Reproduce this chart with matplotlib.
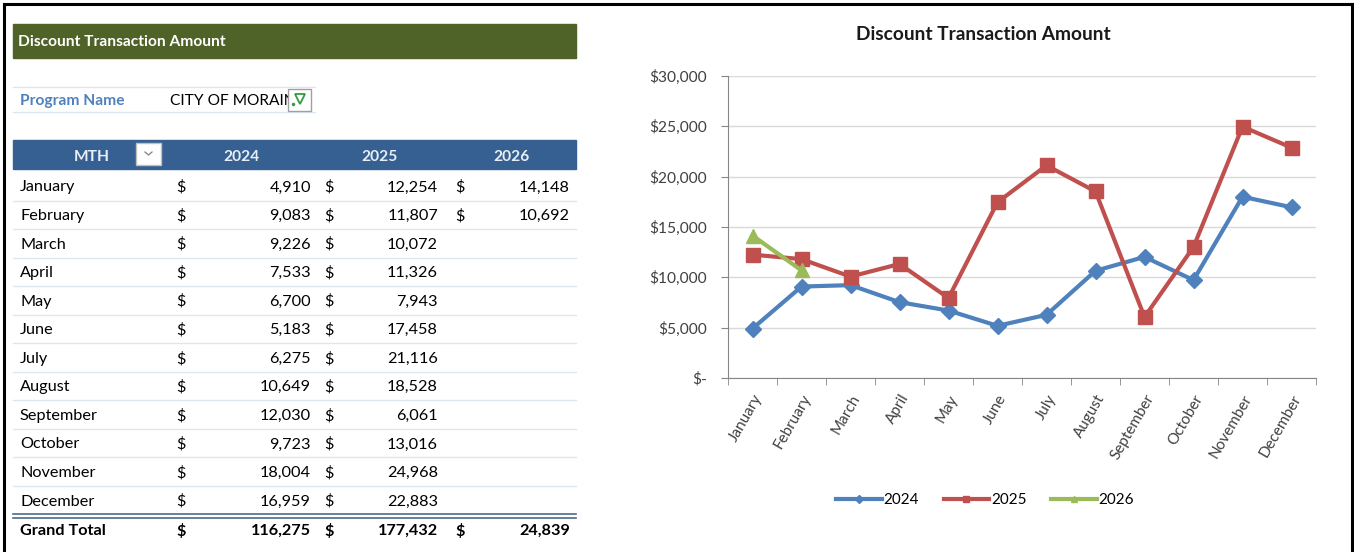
import matplotlib
matplotlib.use("Agg")
import matplotlib.pyplot as plt
from matplotlib.patches import Rectangle
from matplotlib.ticker import FixedLocator, FuncFormatter

plt.rcParams['font.family'] = ['Lato', 'DejaVu Sans']

# ---------------------------------------------------------------
# Data (read off the pivot table)
# ---------------------------------------------------------------
months = ["January", "February", "March", "April", "May", "June", "July",
          "August", "September", "October", "November", "December"]
amt_2024 = [4910, 9083, 9226, 7533, 6700, 5183, 6275, 10649, 12030, 9723, 18004, 16959]
amt_2025 = [12254, 11807, 10072, 11326, 7943, 17458, 21116, 18528, 6061, 13016, 24968, 22883]
amt_2026 = [14148, 10692]
grand_totals = [116275, 177432, 24839]
years = ["2024", "2025", "2026"]
series = [amt_2024, amt_2025, amt_2026]
y_ticks = [0, 5000, 10000, 15000, 20000, 25000, 30000]

title = "Discount Transaction Amount"
program = "CITY OF MORAIN"

colors = ["#4F81BD", "#C0504D", "#9BBB59"]
markers = ["D", "s", "^"]

W, H = 1354, 552
FS = 11.7  # table font size

fig = plt.figure(figsize=(W / 100, H / 100), dpi=100)

# background axes in pixel coordinates for the sheet / table part
bg = fig.add_axes([0, 0, 1, 1])
bg.set_xlim(0, W)
bg.set_ylim(H, 0)
bg.axis('off')

# outer black frame (open at bottom)
bg.plot([4, 4], [H, 4], color="black", lw=2.2)
bg.plot([4, 1352], [4, 4], color="black", lw=2.2)
bg.plot([1352, 1352], [4, H], color="black", lw=2.2)

# title bar
bg.add_patch(Rectangle((13, 24), 563, 34, color="#4F6228"))
bg.text(18, 42, title, color="white", fontsize=FS - 0.5, fontweight="bold", va="center")

# program name filter row
bg.plot([13, 315], [87, 87], color="#DCE6F1", lw=1)
bg.plot([13, 315], [112, 112], color="#DCE6F1", lw=1)
bg.text(20, 101, "Program Name", color="#4F81BD", fontsize=FS - 0.5, fontweight="bold", va="center")
bg.text(170, 101, program, color="black", fontsize=FS - 0.5, va="center")
bg.add_patch(Rectangle((288, 89), 23, 22, facecolor="white", edgecolor="#A0A0A0", lw=1, zorder=3))
bg.plot([300], [99], marker="v", ms=7, color="white", mec="#2E9E3E", mew=1.3, zorder=4)
bg.plot([293], [104], marker=".", ms=3, color="#2E9E3E", zorder=4)

# header bar
bg.add_patch(Rectangle((13, 140), 563, 29, color="#366092"))
bg.text(92, 157, "MTH", color="#E8EEF6", fontsize=FS - 0.5, fontweight="bold", ha="center", va="center")
bg.add_patch(Rectangle((136, 143), 25, 22, facecolor="white", edgecolor="#C0C0C0", lw=1))
bg.plot([145, 148.5, 152], [152, 155, 152], color="#808080", lw=0.9)
col_centers = [242, 380, 512]
for yr, cx in zip(years, col_centers):
    bg.text(cx, 157, yr, color="#E8EEF6", fontsize=FS - 0.5, fontweight="bold",
            ha="center", va="center")

# body rows
row0, row_step = 187.5, 28.55
dollar_x = [176, 324, 455]
value_x = [311, 438, 570]
for i, m in enumerate(months):
    y = row0 + i * row_step
    bg.text(20, y, m, fontsize=FS, va="center", color="black")
    for k, vals in enumerate(series):
        if i < len(vals):
            bg.text(dollar_x[k], y, "$", fontsize=FS, va="center")
            bg.text(value_x[k], y, f"{vals[i]:,}", fontsize=FS, va="center", ha="right")
    if i < len(months) - 1:
        bg.plot([13, 576], [y + 13, y + 13], color="#DCE6F1", lw=1)

# grand total
bg.plot([13, 576], [514, 514], color="#4F6B8C", lw=1.2)
bg.plot([13, 576], [517.5, 517.5], color="#4F6B8C", lw=1.2)
bg.text(20, 531, "Grand Total", fontsize=FS, fontweight="bold", va="center")
for k, tot in enumerate(grand_totals):
    bg.text(dollar_x[k], 531, "$", fontsize=FS, fontweight="bold", va="center")
    bg.text(value_x[k], 531, f"{tot:,}", fontsize=FS, fontweight="bold",
            va="center", ha="right")

# ---------------------------------------------------------------
# Line chart
# ---------------------------------------------------------------
ax = fig.add_axes([728 / W, 1 - 378 / H, 588 / W, 302 / H])
for vals, yr, c, mk in zip(series, years, colors, markers):
    ms = 9.5 if mk == "s" else (8.5 if mk == "D" else 10)
    ax.plot(range(len(vals)), vals, color=c, lw=3, marker=mk, ms=ms, label=yr)

ax.set_xlim(-0.5, len(months) - 0.5)
ax.set_ylim(0, 30000)
ax.yaxis.set_major_locator(FixedLocator(y_ticks))
ax.yaxis.set_major_formatter(FuncFormatter(lambda v, p: "$-" if v == 0 else f"${v:,.0f}"))
ax.grid(axis="y", color="#D9D9D9", lw=1)
ax.set_axisbelow(True)

ax.set_xticks(range(len(months)))
ax.set_xticklabels(months, rotation=60, ha="right", rotation_mode="anchor", fontsize=11,
                   color="#404040")
ax.tick_params(axis="x", which="major", length=0, pad=10)
ax.set_xticks([i - 0.5 for i in range(len(months) + 1)], minor=True)
ax.tick_params(axis="x", which="minor", length=5, color="#868686")
ax.tick_params(axis="y", length=5, color="#868686", labelsize=11.2, labelcolor="#404040", pad=10)

for s in ["top", "right"]:
    ax.spines[s].set_visible(False)
for s in ["left", "bottom"]:
    ax.spines[s].set_color("#868686")

fig.text(983 / W, 1 - 35 / H, title, ha="center", va="center", fontsize=13.8, fontweight="bold",
         color="#1A1A1A")

fig.legend(loc="center", bbox_to_anchor=(985 / W, 1 - 500 / H), ncol=3, frameon=False,
           fontsize=11, handlelength=3.0, handletextpad=0.1, columnspacing=1.6, markerscale=0.45)

fig.savefig("out.png", dpi=100)
